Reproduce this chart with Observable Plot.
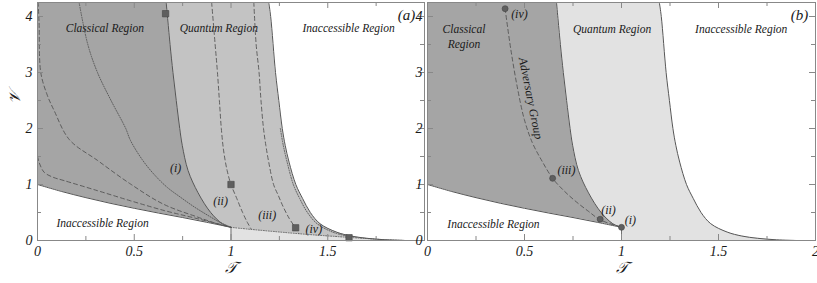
<!DOCTYPE html>
<html><head><meta charset="utf-8">
<script src="https://cdn.jsdelivr.net/npm/d3@7"></script>
<script src="https://cdn.jsdelivr.net/npm/@observablehq/plot@0.6"></script>
<style>
body{margin:0;background:#fff;}
#wrap{position:relative;width:817px;height:283px;overflow:hidden;background:#fff;}
#wrap svg{position:absolute;top:0;}
</style></head><body><div id="wrap"></div>
<script>
// ---------- data (T, V) ----------
const lowerCurve = [[0,1.0],[0.125,0.875],[0.25,0.765],[0.375,0.665],[0.5,0.575],[0.625,0.49],[0.75,0.41],[0.875,0.325],[1.0,0.235]];
const classicalBoundary = [[0.665,4.25],[0.685,3.5],[0.70,3.0],[0.717,2.5],[0.735,2.0],[0.748,1.7],[0.778,1.25],[0.83,0.85],[0.895,0.5],[0.955,0.3],[1.0,0.235]];
const quantumBoundary = [[1.195,4.25],[1.205,4.0],[1.23,3.0],[1.247,2.5],[1.265,2.0],[1.28,1.7],[1.30,1.4],[1.335,1.0],[1.37,0.75],[1.41,0.5],[1.46,0.3],[1.545,0.15],[1.62,0.08],[1.7,0.04],[1.8,0.012],[1.9,0]];
const lowerExtension = [[1,0.235],[1.1,0.2],[1.2,0.168],[1.3,0.137],[1.4,0.108],[1.5,0.082],[1.6,0.058],[1.7,0.035],[1.8,0.013],[1.9,0]];
const curveII = [[0.90,4.25],[0.918,3.5],[0.93,3.0],[0.94,2.5],[0.95,2.0],[0.962,1.6],[0.98,1.25],[1.0,1.0],[1.03,0.75],[1.06,0.5],[1.085,0.32],[1.105,0.2]];
const curveIII = [[1.118,4.25],[1.13,3.5],[1.145,3.0],[1.155,2.5],[1.168,2.0],[1.18,1.7],[1.195,1.4],[1.22,1.0],[1.245,0.8],[1.27,0.6],[1.30,0.4],[1.33,0.24],[1.35,0.123]];
const curveIV = [[1.255,2.0],[1.27,1.7],[1.29,1.4],[1.322,1.0],[1.355,0.75],[1.395,0.5],[1.445,0.3],[1.525,0.15],[1.61,0.07]];
const dottedClassical = [[0.215,4.25],[0.26,3.5],[0.31,3.0],[0.38,2.5],[0.456,2.0],[0.48,1.79],[0.54,1.45],[0.60,1.19],[0.67,0.95],[0.74,0.77],[0.81,0.6],[0.88,0.45],[0.94,0.33],[1.0,0.235]];
const dashedA = [[0.003,4.25],[0.008,3.9],[0.017,3.0],[0.05,2.6],[0.086,2.32],[0.165,1.8],[0.31,1.43],[0.48,1.01],[0.65,0.65],[0.826,0.42],[0.92,0.31],[1.0,0.235]];
const dashedB = [[0,1.5],[0.01,1.38],[0.034,1.22],[0.08,1.13],[0.137,1.07],[0.31,0.89],[0.48,0.71],[0.654,0.536],[0.826,0.39],[1.0,0.235]];
const adversaryCurve = [[0.40,4.14],[0.43,3.4],[0.465,2.7],[0.50,2.15],[0.54,1.75],[0.59,1.42],[0.645,1.11],[0.70,0.9],[0.76,0.71],[0.83,0.52],[0.89,0.37],[1.0,0.235]];
const squaresA = [[0.662,4.05],[1.0,1.0],[1.334,0.227],[1.61,0.05]];
const adversaryPoints = [[1.0,0.235],[0.89,0.38],[0.645,1.11],[0.40,4.14]];

// ticks
const xTicksMajor = [0,0.5,1,1.5,2];
const xTicksMinor = [0.25,0.75,1.25,1.75];
const yTicksMajor = [0,1,2,3,4];
const yTicksMinor = [0.5,1.5,2.5,3.5];
const xLabelsA = [0,0.5,1,1.5];
const xLabelsB = [0,0.5,1,1.5,2];

// annotations [T, V, text]
const labelsA = [[0.348,3.79,"Classical Region"],[0.937,3.79,"Quantum Region"],[1.608,3.79,"Inaccessible Region"],[0.336,0.30,"Inaccessible Region"]];
const romanA = [[0.714,1.29,"(i)"],[0.946,0.71,"(ii)"],[1.187,0.46,"(iii)"],[1.428,0.20,"(iv)"]];
const labelsB = [[0.188,3.655,"Classical\nRegion"],[0.952,3.79,"Quantum Region"],[1.617,3.79,"Inaccessible Region"],[0.34,0.30,"Inaccessible Region"]];
const romanB = [[1.046,0.37,"(i)"],[0.933,0.54,"(ii)"],[0.716,1.25,"(iii)"],[0.474,4.05,"(iv)"]];
const adversaryLabel = [[0.532,2.54,"Adversary Group"]];
const panelTags = {a: [[1.907,4.02,"(a)"]], b: [[1.918,4.02,"(b)"]]};

const C_DARK = "#a5a5a5", C_MID = "#c3c3c3", C_LIGHT = "#e2e2e2";
const LINE = "#555", FRAME = "#888";
const H = 283, MT = 2, MB = 43, INNER = H - MT - MB;
const P = a => a.map(([T,V,t]) => ({T, V, t}));
const FONT = "Liberation Serif";
const TXT = {fontFamily: FONT, fontStyle: "italic", fill: "#1a1a1a"};

function common(innerW, xLabels) {
  return [
    Plot.ruleX(xTicksMajor, {x: d=>d, insetTop: INNER-6, stroke: FRAME}),
    Plot.ruleX(xTicksMinor, {x: d=>d, insetTop: INNER-4, stroke: FRAME}),
    Plot.ruleX(xTicksMajor, {x: d=>d, insetBottom: INNER-6, stroke: FRAME}),
    Plot.ruleX(xTicksMinor, {x: d=>d, insetBottom: INNER-4, stroke: FRAME}),
    Plot.ruleY(yTicksMajor, {y: d=>d, insetRight: innerW-6, stroke: FRAME}),
    Plot.ruleY(yTicksMinor, {y: d=>d, insetRight: innerW-4, stroke: FRAME}),
    Plot.ruleY(yTicksMajor, {y: d=>d, insetLeft: innerW-6, stroke: FRAME}),
    Plot.ruleY(yTicksMinor, {y: d=>d, insetLeft: innerW-4, stroke: FRAME}),
    Plot.frame({stroke: FRAME}),
    Plot.axisX({ticks: xLabels, tickSize: 0, tickPadding: 6, tickFormat: d => String(d), label: null, fontSize: 14, ...TXT}),
    Plot.axisY({ticks: yTicksMajor, tickSize: 0, tickPadding: 5, tickFormat: d => String(d), label: null, fontSize: 14, ...TXT}),
    Plot.text(["𝒯"], {frameAnchor: "bottom", dy: 32, fontSize: 16, fontFamily: FONT, fill: "#1a1a1a"}),
  ];
}
function txt(arr, opts) {
  return Plot.text(P(arr), {x: "T", y: "V", text: "t", fontSize: 11.5, ...TXT, ...opts});
}
function line(arr, opts) {
  return Plot.line(P(arr), {x: "T", y: "V", stroke: LINE, strokeWidth: 1, curve: "catmull-rom", ...opts});
}

const WA = 426, mLA = 37, mRA = 2;
const plotA = Plot.plot({
  width: WA, height: H, marginLeft: mLA, marginRight: mRA, marginTop: MT, marginBottom: MB,
  x: {domain: [0,2], axis: null}, y: {domain: [0,4.25], axis: null},
  style: {fontFamily: FONT, fontStyle: "italic", background: "transparent", overflow: "visible"},
  marks: [
    Plot.areaX(P(quantumBoundary), {x: "T", y: "V", fill: C_MID, curve: "catmull-rom"}),
    Plot.areaY(P(lowerExtension), {x: "T", y: "V", fill: C_LIGHT, curve: "catmull-rom"}),
    Plot.areaX(P(classicalBoundary), {x: "T", y: "V", fill: C_DARK, curve: "catmull-rom"}),
    Plot.areaY(P(lowerCurve), {x: "T", y: "V", fill: "white", curve: "catmull-rom"}),
    Plot.ruleX([lowerExtension[0]], {x: d=>d[0], y1: 0, y2: d=>d[1], stroke: LINE, strokeWidth: 0.8}),
    line(dashedA, {strokeDasharray: "4,3", strokeWidth: 0.9}),
    line(dashedB, {strokeDasharray: "4,3", strokeWidth: 0.9}),
    line(dottedClassical, {strokeDasharray: "1,1.5", strokeWidth: 0.9}),
    line(curveII, {strokeDasharray: "4,3", strokeWidth: 0.9}),
    line(curveIII, {strokeDasharray: "4,3", strokeWidth: 0.9}),
    line(curveIV, {strokeDasharray: "1,1.5", strokeWidth: 0.9}),
    line(lowerExtension, {strokeDasharray: "1,1.5", strokeWidth: 0.9}),
    line(lowerCurve),
    line(classicalBoundary),
    line(quantumBoundary),
    Plot.dot(P(squaresA), {x: "T", y: "V", symbol: "square", r: 3.6, fill: "#5f5f5f", stroke: "#444", strokeWidth: 0.6}),
    txt(labelsA),
    txt(romanA, {fontSize: 12}),
    txt(panelTags.a, {fontSize: 15}),
    ...common(WA - mLA - mRA, xLabelsA),
    Plot.text(["𝒱"], {frameAnchor: "left", dx: -23, dy: -18, rotate: -90, fontSize: 16, fontFamily: FONT, fill: "#1a1a1a"}),
  ]
});

const LB = 400, WB = 417, mLB = 27, mRB = 2;
const plotB = Plot.plot({
  width: WB, height: H, marginLeft: mLB, marginRight: mRB, marginTop: MT, marginBottom: MB,
  x: {domain: [0,2], axis: null}, y: {domain: [0,4.25], axis: null},
  style: {fontFamily: FONT, fontStyle: "italic", background: "transparent", overflow: "visible"},
  marks: [
    Plot.areaX(P(quantumBoundary), {x: "T", y: "V", fill: C_LIGHT, curve: "catmull-rom"}),
    Plot.areaX(P(classicalBoundary), {x: "T", y: "V", fill: C_DARK, curve: "catmull-rom"}),
    Plot.areaY(P(lowerCurve), {x: "T", y: "V", fill: "white", curve: "catmull-rom"}),
    Plot.ruleX([lowerExtension[0]], {x: d=>d[0], y1: 0, y2: d=>d[1], stroke: LINE, strokeWidth: 0.8}),
    line(lowerCurve),
    line(classicalBoundary),
    line(quantumBoundary),
    line(adversaryCurve, {strokeDasharray: "4,3", strokeWidth: 0.9}),
    Plot.dot(P(adversaryPoints), {x: "T", y: "V", r: 3, fill: "#5f5f5f", stroke: "#444", strokeWidth: 0.6}),
    txt(labelsB, {lineHeight: 1.25}),
    txt(romanB, {fontSize: 12}),
    txt(adversaryLabel, {fontSize: 12, rotate: 78.7}),
    txt(panelTags.b, {fontSize: 15}),
    ...common(WB - mLB - mRB, xLabelsB),
  ]
});

const wrap = document.getElementById("wrap");
plotA.style.left = "0px";
plotB.style.left = LB + "px";
wrap.appendChild(plotA);
wrap.appendChild(plotB);
</script></body></html>
